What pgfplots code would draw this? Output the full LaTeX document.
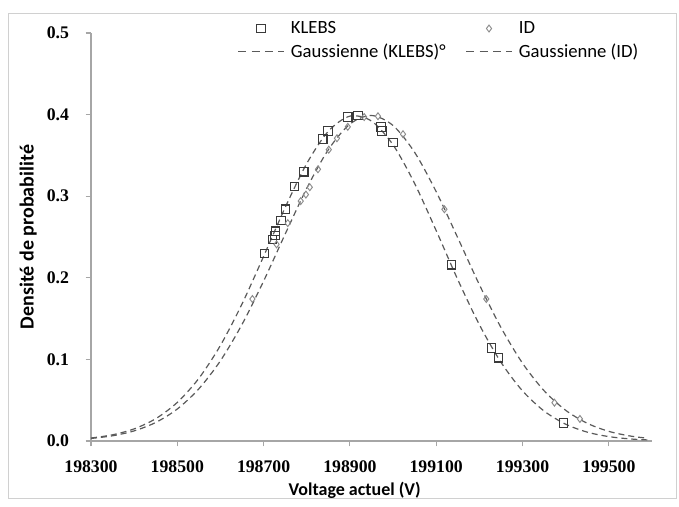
\documentclass[border=0pt]{standalone}
\usepackage{fontspec}
\setmainfont{Carlito}
\newfontfamily\tickfont{Liberation Serif}
\usepackage{pgfplots}
\pgfplotsset{compat=1.18}
\definecolor{sqcol}{HTML}{3A3A3A}
\definecolor{dicol}{HTML}{8A8A8A}
\definecolor{lncol}{HTML}{5A5A5A}
\definecolor{axcol}{HTML}{A6A6A6}
\definecolor{brdcol}{HTML}{D0D0D0}
\pgfplotsset{
  markleg/.style={legend image code/.code={\draw[##1] plot coordinates {(17pt,0pt)};}},
  lineleg/.style={legend image code/.code={\draw[##1, dash pattern=on 6pt off 4pt] (0pt,0pt) -- (34pt,0pt);}},
}
\begin{document}
\begin{tikzpicture}
\path (0,0) rectangle (509.25pt,380.25pt);
\draw[brdcol, line width=0.6pt] (6pt,6.75pt) rectangle (507pt,370.5pt);
\begin{axis}[
  at={(68.25pt,49.5pt)}, anchor=south west,
  scale only axis, width=420.75pt, height=306pt,
  xmin=198300, xmax=199600, ymin=0, ymax=0.5,
  xtick={198300,198500,198700,198900,199100,199300,199500},
  xticklabels={198300,198500,198700,198900,199100,199300,199500},
  ytick={0,0.1,0.2,0.3,0.4,0.5},
  yticklabels={0.0,0.1,0.2,0.3,0.4,0.5},
  axis x line*=bottom, axis y line*=left,
  axis line style={axcol, line width=0.8pt, -},
  tick style={axcol, line width=0.8pt},
  tick align=outside, major tick length=4pt,
  xticklabel style={font=\fontsize{13.3}{14}\tickfont\bfseries, text=black, yshift=-7pt},
  yticklabel style={font=\fontsize{13.3}{14}\tickfont\bfseries, text=black, xshift=-9pt},
  scaled x ticks=false, scaled y ticks=false,
  xlabel={Voltage actuel (V)},
  ylabel={Densité de probabilité},
  xlabel style={font=\fontsize{13.5}{15}\selectfont\bfseries, at={(axis description cs:0.47,-0.12)}, anchor=center},
  ylabel style={font=\fontsize{15}{17}\selectfont\bfseries, at={(axis description cs:-0.112,0.5)}, anchor=center},
  legend columns=2,
  legend style={draw=none, fill=none, font=\fontsize{14}{15}\selectfont, at={(rel axis cs:0.261,0.982)}, anchor=west, inner sep=0pt, row sep=2pt, /tikz/every odd column/.append style={column sep=3pt}, /tikz/every even column/.append style={column sep=13pt}},
  legend cell align=left,
]
\addplot[only marks, mark=square, mark size=3.2pt, sqcol, mark options={line width=0.8pt}, markleg]
coordinates {
(198702,0.230) (198721,0.247) (198726,0.252) (198728,0.257) (198740,0.270)
(198751,0.284) (198772,0.312) (198793,0.330) (198837,0.370) (198849,0.380)
(198895,0.397) (198919,0.399) (198972,0.385) (198974,0.380) (199000,0.366)
(199135,0.216) (199228,0.114) (199244,0.102) (199395,0.022)
};
\addlegendentry{KLEBS}
\addplot[only marks, mark=diamond, mark size=2.6pt, dicol, mark options={line width=0.7pt}, markleg]
coordinates {
(198674,0.174) (198730,0.241) (198756,0.267) (198786,0.294) (198798,0.302)
(198807,0.311) (198826,0.333) (198851,0.357) (198870,0.371) (198895,0.385)
(198933,0.397) (198965,0.398) (199023,0.376) (199119,0.284) (199216,0.174)
(199374,0.047) (199433,0.027)
};
\addlegendentry{ID}
\addplot[lncol, line width=0.9pt, dash pattern=on 4.5pt off 3pt, smooth, no marks, lineleg]
coordinates {
(198300,0.00364) (198350,0.00759) (198400,0.01486) (198450,0.02735) (198500,0.0473)
(198550,0.0768) (198600,0.1172) (198650,0.1680) (198700,0.2263) (198750,0.2862)
(198800,0.3401) (198850,0.3796) (198900,0.3981) (198950,0.3921) (199000,0.3629)
(199050,0.3155) (199100,0.2577) (199150,0.1977) (199200,0.1425) (199250,0.0965)
(199300,0.0614) (199350,0.0367) (199400,0.0206) (199450,0.01085) (199500,0.00537)
(199550,0.00250) (199590,0.00130)
};
\addlegendentry{Gaussienne (KLEBS)°}
\addplot[lncol, line width=0.9pt, dash pattern=on 4.5pt off 3pt, smooth, no marks, lineleg]
coordinates {
(198300,0.00312) (198350,0.00640) (198400,0.01240) (198450,0.02271) (198500,0.0392)
(198550,0.0640) (198600,0.0984) (198650,0.1429) (198700,0.1960) (198750,0.2536)
(198800,0.3097) (198850,0.3570) (198900,0.3884) (198950,0.3989) (199000,0.3866)
(199050,0.3537) (199100,0.3054) (199150,0.2489) (199200,0.1915) (199250,0.1391)
(199300,0.0953) (199350,0.0616) (199400,0.0376) (199450,0.0217) (199500,0.0118)
(199550,0.00606) (199590,0.00340)
};
\addlegendentry{Gaussienne (ID)}
\end{axis}
\end{tikzpicture}
\end{document}
